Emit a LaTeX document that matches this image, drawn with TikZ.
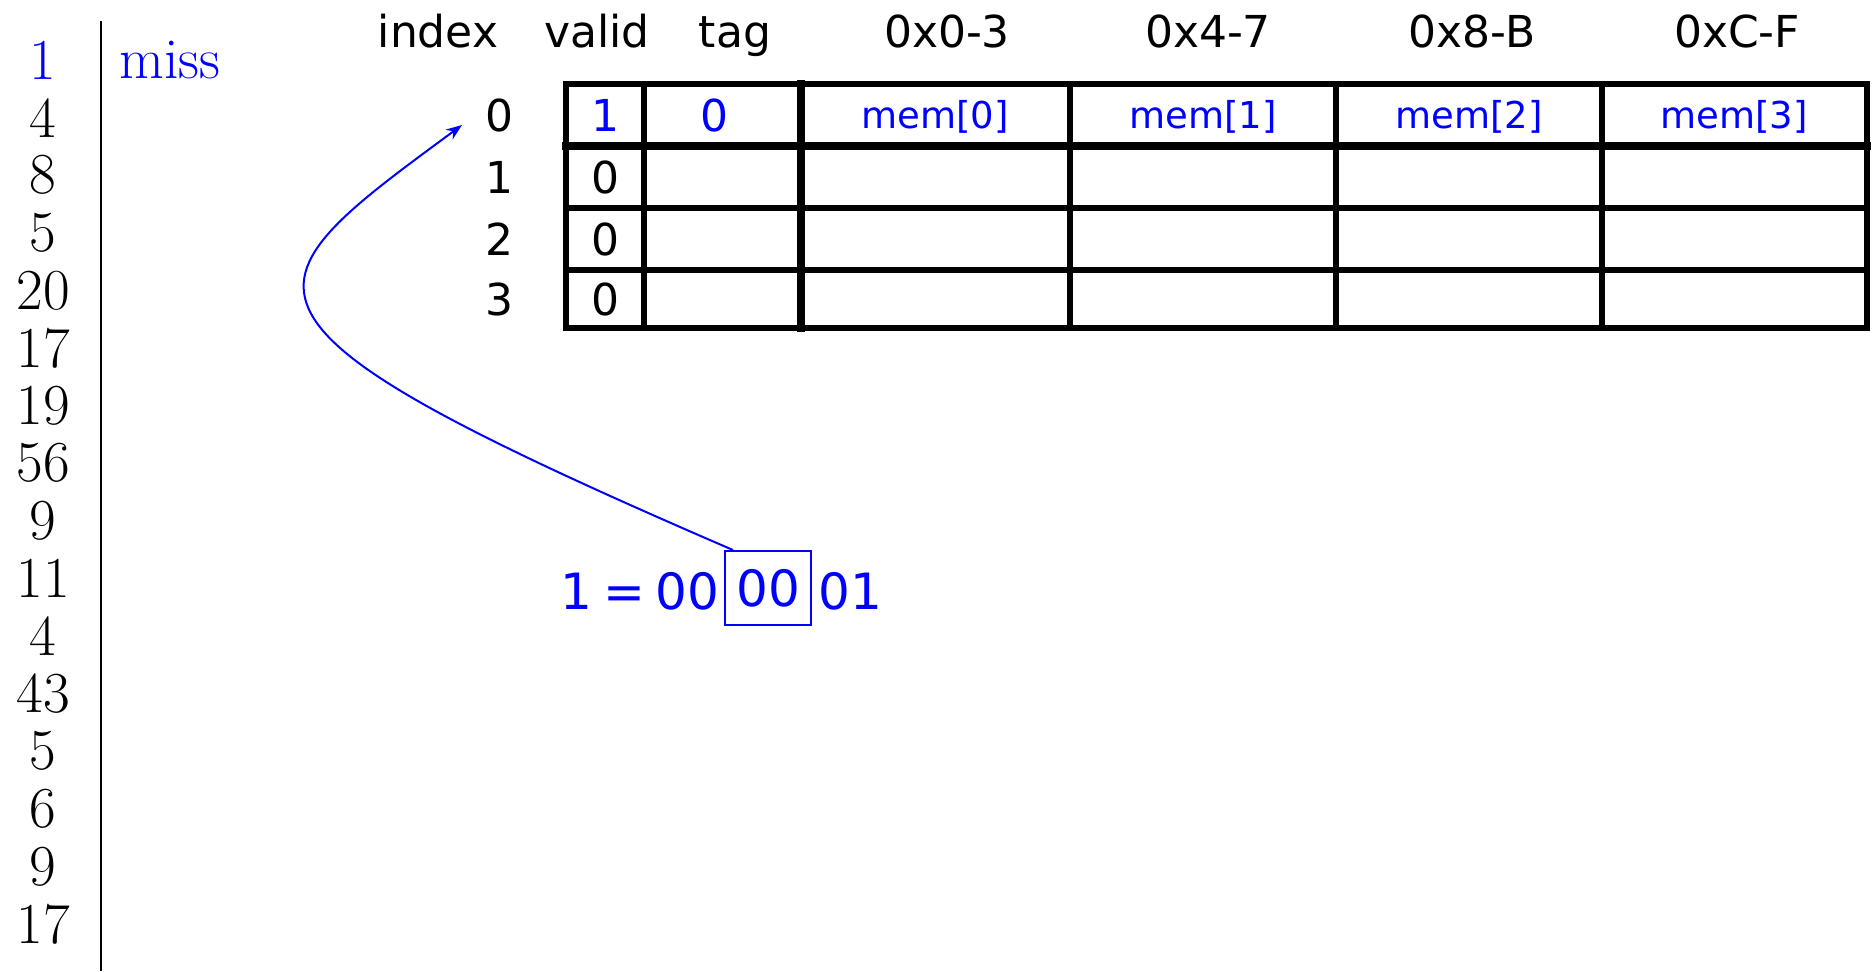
\documentclass[tikz,border=0pt]{standalone}
\usepackage{fontspec}
\newfontfamily\cs{DejaVu Sans}
\usetikzlibrary{arrows.meta}
\definecolor{pblue}{RGB}{0,0,255}
\begin{document}
\begin{tikzpicture}[x=0.5pt,y=-0.5pt,
  num/.style={font=\fontsize{29}{29}\selectfont, inner sep=0pt, anchor=center},
  hdr/.style={font=\cs\fontsize{22}{22}\selectfont, inner sep=0pt, anchor=base},
  cell/.style={font=\cs\fontsize{22}{22}\selectfont, inner sep=0pt},
  memtxt/.style={font=\cs\fontsize{18.5}{18.5}\selectfont, text=pblue, inner sep=0pt},
  bot/.style={font=\cs\fontsize{25}{25}\selectfont, text=pblue, inner sep=0pt},
  gridline/.style={line width=2.8pt, line cap=rect},
  heavyline/.style={line width=4pt, line cap=rect},
  ]
\useasboundingbox (0,0) rectangle (1872,971);

% left column of numbers
\node[num, text=pblue] (n0) at (43,60) {1};
\foreach \v [count=\i from 1] in {4,8,5,20,17,19,56,9,11,4,43,5,6,9,17}
  \node[num] (n\i) at (43,60+57.6*\i) {\v};
\draw[line width=0.8pt] (101,21) -- (101,971);
\node[num, text=pblue] (miss) at (170,60) {miss};

% headers
\node[hdr] (hindex) at (438,47) {index};
\node[hdr] (hvalid) at (597,47) {valid};
\node[hdr] (htag)   at (735,47) {tag};
\node[hdr] (h0) at (947,47) {0x0-3};
\node[hdr] (h1) at (1208,47) {0x4-7};
\node[hdr] (h2) at (1472,47) {0x8-B};
\node[hdr] (h3) at (1737,47) {0xC-F};

% grid
\foreach \y in {84,208,270,328}
  \draw[gridline] (566,\y) -- (1867,\y);
\draw[heavyline] (566,146) -- (1867,146);
\foreach \x in {566,644,1070,1336,1602,1867}
  \draw[gridline] (\x,84) -- (\x,328);
\draw[heavyline] (801,84) -- (801,328);

% row indices and cells
\foreach \r/\y in {0/115,1/177,2/239,3/299}
  \node[cell] (r\r) at (499,\y) {\r};
\node[cell, text=pblue] (v0) at (605,115) {1};
\node[cell] (v1) at (605,177) {0};
\node[cell] (v2) at (605,239) {0};
\node[cell] (v3) at (605,299) {0};
\node[cell, text=pblue] (t0) at (714,115) {0};
\node[memtxt] (m0) at (935,117) {mem[0]};
\node[memtxt] (m1) at (1203,117) {mem[1]};
\node[memtxt] (m2) at (1469,117) {mem[2]};
\node[memtxt] (m3) at (1734,117) {mem[3]};

% address decomposition
\node[bot, anchor=east] (eqL) at (720,591) {1\hspace{0.22em}=\hspace{0.22em}00};
\node[bot, draw=pblue, line width=1pt, minimum width=43pt, minimum height=37pt] (box) at (768,588) {00};
\node[bot, anchor=west] (eqR) at (818,591) {01};

% arrow
\coordinate (tip) at (462,125);
\draw[pblue, line width=1pt, -{Stealth[length=8pt,width=6pt]}]
  ([xshift=4.5pt]box.north west) .. controls (195,318) and (238,290) .. (tip);
\end{tikzpicture}
\end{document}
